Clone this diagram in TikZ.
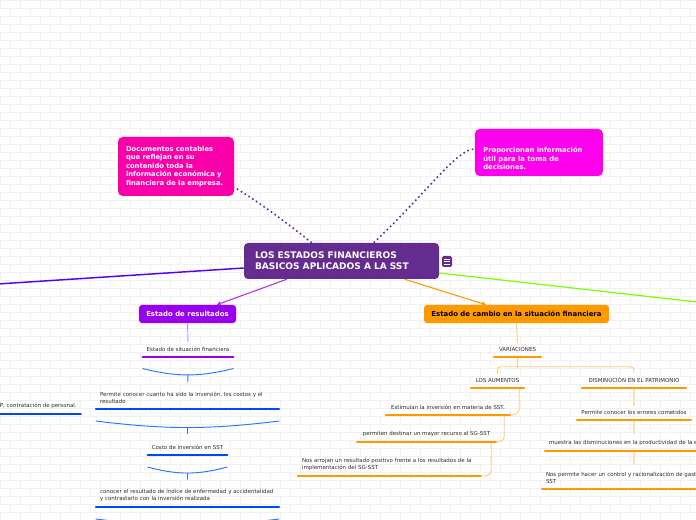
\documentclass[tikz,border=0pt]{standalone}
\usepackage{fontspec}
\setmainfont{DejaVu Sans}
\usetikzlibrary{arrows.meta}
\definecolor{cpurple}{RGB}{101,44,144}
\definecolor{cpinkA}{RGB}{250,0,170}
\definecolor{cpinkB}{RGB}{255,0,238}
\definecolor{cviolet}{RGB}{153,0,238}
\definecolor{corange}{RGB}{255,153,0}
\definecolor{cblue}{RGB}{0,72,255}
\definecolor{carc}{RGB}{40,115,255}
\definecolor{cindigo}{RGB}{85,0,255}
\definecolor{clime}{RGB}{120,255,0}
\definecolor{cdots}{RGB}{95,45,140}
\definecolor{clvio}{RGB}{200,140,255}
\definecolor{clor}{RGB}{255,200,125}
\definecolor{clor2}{RGB}{255,222,175}
\definecolor{ctext}{RGB}{45,45,45}
\definecolor{cbrick}{RGB}{241,241,241}
\begin{document}
\begin{tikzpicture}[x=0.75pt,y=-0.75pt,
  brick/.style={draw=cbrick, line width=0.5pt},
  mainbox/.style={fill=cpurple, rounded corners=3pt, text=white, font=\fontsize{6.8pt}{8.25pt}\selectfont\bfseries, align=left, text width=129.75pt, inner xsep=8.25pt, inner ysep=2pt, minimum height=27pt},
  iconbox/.style={fill=cpurple, rounded corners=1.2pt, minimum width=7.5pt, minimum height=8.25pt, inner sep=0pt},
  tlbox/.style={fill=cpinkA, rounded corners=3.5pt, text=white, font=\fontsize{5.1pt}{6.35pt}\selectfont\bfseries, align=left, text width=75pt, inner xsep=6pt, minimum height=44.25pt},
  trbox/.style={fill=cpinkB, rounded corners=3.5pt, minimum width=96pt, minimum height=35.25pt, inner sep=0pt},
  trtxt/.style={anchor=west, text=white, font=\fontsize{5.1pt}{6.5pt}\selectfont\bfseries, align=left, inner sep=0pt},
  erbox/.style={fill=cviolet, rounded corners=2.25pt, text=white, font=\fontsize{5.2pt}{6pt}\selectfont\bfseries, minimum width=72.75pt, minimum height=13.5pt, inner sep=0pt},
  ecbox/.style={fill=corange, rounded corners=2.25pt, text=black, font=\fontsize{5.2pt}{6pt}\selectfont\bfseries, minimum width=138.75pt, minimum height=13.5pt, inner sep=0pt},
  item/.style={anchor=south, text=ctext, font=\fontsize{4.1pt}{5.25pt}\selectfont, inner xsep=3.75pt, inner ysep=3.6pt},
  barline/.style={line width=1.8pt, line cap=round, shorten <=0.9pt, shorten >=0.9pt},
  arcl/.style={draw=carc, line width=0.7pt},
  vl/.style={draw=clvio, line width=0.7pt},
  oc/.style={draw=clor, line width=0.7pt},
  oc2/.style={draw=clor2, line width=0.9pt},
  dotl/.style={draw=cdots, line width=1.2pt, dash pattern=on 1.2pt off 2.2pt},
  arrowtip/.style={-{Triangle[length=3pt,width=3.2pt]}}
]
\useasboundingbox (0,0) rectangle (696,520);
\clip (0,0) rectangle (696,520);
\fill[white] (0,0) rectangle (696,520);
\foreach \r in {0,...,65}{
  \draw[brick] (0,\r*8) -- (696,\r*8);
  \pgfmathsetmacro{\off}{mod(\r,2)*10}
  \foreach \c in {-1,...,35}{\draw[brick] (\c*20+\off,\r*8) -- ++(0,8);}
}

% main nodes
\node[mainbox] (c) at (341.5,261) {LOS ESTADOS FINANCIEROS\\BASICOS APLICADOS A LA SST};
\node[iconbox] (ic) at (447,261.5) {};
\foreach \dy in {-1.9,0,1.9}
  \draw[white, line width=0.55pt] ([xshift=-1.9pt,yshift=\dy pt]ic.center) -- ([xshift=1.9pt,yshift=\dy pt]ic.center);
\node[tlbox] (tl) at (176,166.5) {Documentos contables\\que reflejan en su\\contenido toda la\\información económica y\\financiera de la empresa.};
\node[trbox] (tr) at (539,152.5) {};
\node[trtxt] (trt) at (483,158.5) {Proporcionan información\\útil para la toma de\\decisiones.};
\node[erbox] (er) at (187.5,314) {Estado de resultados};
\node[ecbox] (ec) at (516.5,314) {Estado de cambio en la situación financiera};

% off-picture ends
\coordinate (lo) at (-10,284.5);
\coordinate (ro) at (706,303);

% top connectors
\draw[dotl] ([xshift=51pt]c.north west) .. controls +(-25,-20) and +(25,15) .. ([yshift=6.75pt]tl.south east);
\draw[dotl] ([xshift=97.5pt]c.north west) .. controls +(55,-52) and +(-18,0) .. ([yshift=2.6pt]tr.west);
\draw[cindigo, line width=1.1pt] ([yshift=-5.25pt]c.west) -- (lo);
\draw[clime, line width=0.9pt] ([yshift=-9pt]c.east) -- (ro);
\draw[draw=cviolet!80, line width=0.8pt, arrowtip, fill=cviolet!80] ([xshift=32.25pt]c.south west) -- ([xshift=22pt]er.north);
\draw[draw=corange, line width=0.8pt, arrowtip, fill=corange] ([xshift=120.75pt]c.south west) -- ([xshift=-22.9pt]ec.north);

% left column
\node[item, minimum width=69pt] (l1) at (188,357) {Estado de situación financiera};
\node[item, text width=131.25pt, align=left] (l2) at (187.5,409) {\mbox{Permite conocer cuanto ha sido la inversión, los costos y el}\\resultado};
\node[item, minimum width=60.75pt] (l3) at (187.5,455) {Costo de inversión en SST};
\node[item, text width=131.25pt, align=left] (l4) at (187.5,507) {\mbox{conocer el resultado de índice de enfermedad y accidentalidad}\\y contrastarlo con la inversión realizada};
\node[item, anchor=south east] (lp) at (82,414) {P, contratación de personal.};

\draw[vl] (er.south) -- (l1.north);
\draw[arcl] ([shift={(1,11.5)}]l1.south west) to[bend right=14] coordinate[pos=0.5] (m1) ([shift={(-1,11.5)}]l1.south east);
\draw[arcl] ([shift={(1,12)}]l2.south west) to[bend right=7] coordinate[pos=0.5] (m2) ([shift={(-1,12)}]l2.south east);
\draw[arcl] ([shift={(1,12)}]l3.south west) to[bend right=15] coordinate[pos=0.5] (m3) ([shift={(-1,12)}]l3.south east);
\draw[arcl] ([shift={(1,12)}]l4.south west) to[bend right=7] coordinate[pos=0.5] (m4) ([shift={(-1,12)}]l4.south east);
\draw[arcl, shorten >=4pt] (m1) -- (l2.north);
\draw[arcl, shorten >=5pt] (m2) -- (l3.north);
\draw[arcl, shorten >=3.5pt] (m3) -- (l4.north);

% right column
\node[item, minimum width=36.75pt] (v) at (517.5,357) {VARIACIONES};
\node[item, minimum width=41.25pt] (aum) at (497.5,388) {LOS AUMENTOS};
\node[item, minimum width=79.5pt] (dis) at (634,388) {DISMINUCIÓN EN EL PATRIMONIO};
\node[item, minimum width=94.5pt] (a1) at (448,415) {Estimulan la inversión en materia de SST.};
\node[item, minimum width=105.75pt] (a2) at (426.5,442) {permiten destinar un mayor recurso al SG-SST};
\node[item, text width=131.25pt, align=left] (a3) at (389.5,476) {\mbox{Nos arrojan un resultado positivo frente a los resultados de la}\\implementación del SG-SST};
\node[item, minimum width=87pt] (d1) at (634,420) {Permite conocer los errores cometidos};
\node[item, text width=127.5pt, align=left] (d2) at (634,451) {\mbox{muestra las disminuciones en la productividad de la empresa}};
\node[item, text width=132pt, align=left] (d3) at (634,489) {\mbox{Nos permite hacer un control y racionalización de gastos en}\\SST};

\draw[oc] (ec.south) -- (v.north);
\draw[oc] (v.south) -- ++(0,11.5);
\draw[oc, rounded corners=2.5pt] (aum.north) -- ++(0,-7) -| (dis.north);
\draw[oc, rounded corners=5pt] ([xshift=-4.5pt]aum.south east) |- (a1.south east);
\draw[oc, rounded corners=4.5pt] ([xshift=-5.25pt]a1.south east) |- (a2.south east);
\draw[oc, rounded corners=5pt] ([xshift=-4.5pt]a2.south east) |- (a3.south east);
\draw[oc2] (dis.south) -- (d1.north);
\draw[oc2, shorten >=1.5pt] (d1.south) -- (d2.north);
\draw[oc2, shorten >=1.5pt] (d2.south) -- (d3.north);

% bars
\foreach \n/\col in {l1/cviolet, l2/cblue, l3/cblue, l4/cblue, lp/cblue, v/corange, aum/corange, dis/corange, a1/corange, a2/corange, a3/corange, d1/corange, d2/corange, d3/corange}
  \draw[barline, draw=\col] (\n.south west) -- (\n.south east);
\end{tikzpicture}
\end{document}
